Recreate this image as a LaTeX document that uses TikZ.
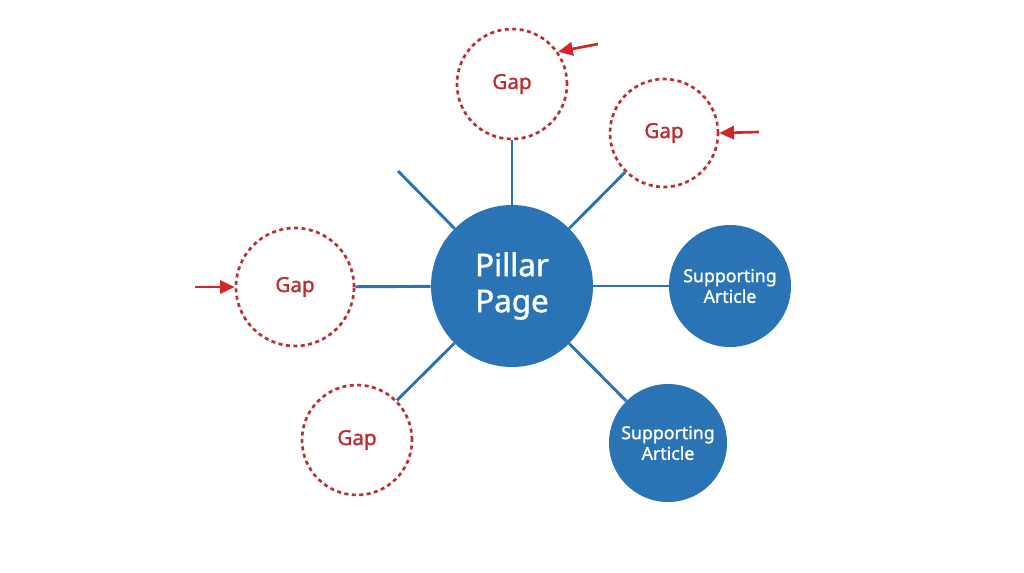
\documentclass[tikz,border=0pt]{standalone}
\usepackage{fontspec}
\setmainfont{Noto Sans}
\newfontfamily\medfont{Noto Sans}[FakeBold=1.3]
\usetikzlibrary{arrows.meta}
\definecolor{pblue}{HTML}{2A74B6}
\definecolor{gapred}{HTML}{BC2E33}
\definecolor{arrred}{HTML}{D2262B}
\begin{document}
\begin{tikzpicture}[x=0.75pt,y=-0.75pt,
  pillar/.style={circle,fill=pblue,text=white,minimum size=162*0.75pt,inner sep=0pt,align=center,font=\medfont\fontsize{23.5}{27}\selectfont},
  support/.style={circle,fill=pblue,text=white,inner sep=0pt,align=center,font=\medfont\fontsize{13.3}{15.5}\selectfont},
  gap/.style={circle,draw=gapred,line width=2pt,dash pattern=on 3pt off 2.6pt,text=gapred,inner sep=0pt,font=\medfont\fontsize{15.5}{18}\selectfont},
  link/.style={draw=pblue,line width=2.2pt},
  gaparrow/.style={draw=arrred,line width=2pt,-{Triangle[length=11pt,width=10pt]}}]
\useasboundingbox[fill=white] (0,0) rectangle (1024,572);
\node[pillar] (P) at (512,286) {Pillar\\Page};
\node[gap,minimum size=110*0.75pt] (G1) at (512,84) {Gap};
\node[gap,minimum size=108*0.75pt] (G2) at (664,133) {Gap};
\node[gap,minimum size=118*0.75pt] (G3) at (295,287) {Gap};
\node[gap,minimum size=110*0.75pt] (G4) at (357,440) {Gap};
\node[support,minimum size=122*0.75pt] (S1) at (730,286) {Supporting\\Article};
\node[support,minimum size=118*0.75pt] (S2) at (668,443) {Supporting\\Article};
\coordinate (D) at (398,171);
\draw[link] (P) -- (G1);
\draw[link] (P) -- (G2);
\draw[link] (P) -- (G3);
\draw[link] (P) -- (G4);
\draw[link] (P) -- (S1);
\draw[link] (P) -- (S2);
\draw[link] (P.135) -- (D);
\coordinate (A1) at (598,44);
\coordinate (A2) at (759,132);
\coordinate (A3) at (195,287);
\draw[gaparrow] (A1) -- (G1.35);
\draw[gaparrow] (A2) -- (G2.east);
\draw[gaparrow] (A3) -- (G3.west);
\end{tikzpicture}
\end{document}
